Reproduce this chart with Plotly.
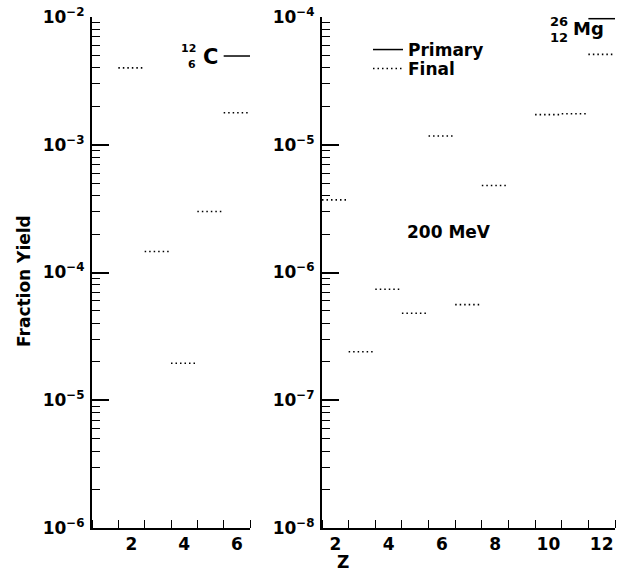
import plotly.graph_objects as go

# ---------------- data ----------------
left_z_final = [2, 3, 4, 5, 6]
left_final = [4.0e-3, 1.46e-4, 1.95e-5, 3.0e-4, 1.78e-3]
left_z_primary = [6]
left_primary = [4.95e-3]

right_z_final = [2, 3, 4, 5, 6, 7, 8, 10, 11, 12]
right_final = [3.7e-6, 2.4e-7, 7.4e-7, 4.8e-7, 1.17e-5, 5.6e-7, 4.8e-6, 1.72e-5, 1.75e-5, 5.1e-5]
right_z_primary = [12]
right_primary = [9.7e-5]

left_xticks = [2, 4, 6]
right_xticks = [2, 4, 6, 8, 10, 12]
left_decades = [-6, -5, -4, -3, -2]
right_decades = [-8, -7, -6, -5, -4]

FONT = "DejaVu Sans, Liberation Sans, Arial, sans-serif"
W, H = 624, 573
ML, MR, MT, MB = 92, 9, 17, 45
PW, PH = W - ML - MR, H - MT - MB


def px(x):
    return (x - ML) / PW


def py(y):
    return 1 - (y - MT) / PH


def segs(zs, vals):
    xs, ys = [], []
    for z, v in zip(zs, vals):
        xs += [z - 0.5, z + 0.5, None]
        ys += [v, v, None]
    return xs, ys


fig = go.Figure()

dot = dict(color="black", width=1.6, dash="1.5px,3px")
solid = dict(color="black", width=1.5)

x, y = segs(left_z_final, left_final)
fig.add_trace(go.Scatter(x=x, y=y, mode="lines", line=dot, xaxis="x", yaxis="y", showlegend=False, hoverinfo="skip"))
x, y = segs(left_z_primary, left_primary)
fig.add_trace(go.Scatter(x=x, y=y, mode="lines", line=solid, xaxis="x", yaxis="y", showlegend=False, hoverinfo="skip"))
x, y = segs(right_z_primary, right_primary)
fig.add_trace(go.Scatter(x=x, y=y, mode="lines", line=solid, xaxis="x2", yaxis="y2", name="Primary",
                         showlegend=True, legend="legend", hoverinfo="skip"))
x, y = segs(right_z_final, right_final)
fig.add_trace(go.Scatter(x=x, y=y, mode="lines", line=dot, xaxis="x2", yaxis="y2", name="Final",
                         showlegend=True, legend="legend2", hoverinfo="skip"))
# empty traces so the minor-tick overlay axes get drawn
fig.add_trace(go.Scatter(x=[None], y=[None], mode="lines", xaxis="x", yaxis="y3", showlegend=False, hoverinfo="skip"))
fig.add_trace(go.Scatter(x=[None], y=[None], mode="lines", xaxis="x2", yaxis="y4", showlegend=False, hoverinfo="skip"))

tickfont = dict(family=FONT, size=17, color="black", weight="bold")


def yaxis(decades, anchor):
    return dict(
        type="log",
        range=[decades[0], decades[-1]],
        tickmode="array",
        tickvals=[10.0 ** e for e in decades],
        ticktext=["10<sup>\u2212%d</sup>" % (-e) for e in decades],
        ticks="inside", ticklen=17, tickwidth=1.5, tickcolor="black",
        showline=True, linewidth=2, linecolor="black",
        showgrid=False, zeroline=False, tickfont=tickfont,
        anchor=anchor, ticklabelstandoff=2,
    )


def yminor(decades, anchor, over):
    vals = [k * 10.0 ** e for e in decades[:-1] for k in range(2, 10)]
    return dict(
        type="log", range=[decades[0], decades[-1]], overlaying=over, anchor=anchor,
        side="left", tickmode="array", tickvals=vals, ticktext=[""] * len(vals),
        showticklabels=True,
        ticks="inside", ticklen=8, tickwidth=1.3, tickcolor="black",
        showline=False, showgrid=False, zeroline=False,
    )


def xaxis(rng, ticks, domain, anchor):
    return dict(
        range=rng, domain=domain, anchor=anchor,
        tickmode="array", tickvals=ticks, ticktext=[str(t) for t in ticks],
        ticks="",
        minor=dict(tickmode="linear", tick0=0.5, dtick=1, ticks="inside", ticklen=8,
                   tickwidth=1.3, tickcolor="black", showgrid=False),
        showline=True, linewidth=2, linecolor="black",
        showgrid=False, zeroline=False, tickfont=tickfont,
    )


legfont = dict(family=FONT, size=17, color="black", weight="bold")

fig.update_layout(
    width=W, height=H,
    margin=dict(l=ML, r=MR, t=MT, b=MB, autoexpand=False),
    paper_bgcolor="white", plot_bgcolor="white",
    xaxis=xaxis([0.5, 6.5], left_xticks, [0, px(250)], "y"),
    yaxis=yaxis(left_decades, "x"),
    yaxis3=yminor(left_decades, "x", "y"),
    xaxis2=xaxis([1.5, 12.5], right_xticks, [px(322), 1], "y2"),
    yaxis2=yaxis(right_decades, "x2"),
    yaxis4=yminor(right_decades, "x2", "y2"),
    legend=dict(x=px(368), y=py(32), xanchor="left", yanchor="top", font=legfont,
                bgcolor="rgba(0,0,0,0)", borderwidth=0, itemwidth=30),
    legend2=dict(x=px(368), y=py(51), xanchor="left", yanchor="top", font=legfont,
                 bgcolor="rgba(0,0,0,0)", borderwidth=0, itemwidth=30),
    showlegend=True,
)

ann = []


def add(text, x, y, size, xanchor="center", yanchor="middle", angle=0):
    ann.append(dict(text=text, x=px(x), y=py(y), xref="paper", yref="paper",
                    xanchor=xanchor, yanchor=yanchor, textangle=angle, showarrow=False,
                    font=dict(family=FONT, size=size, color="black", weight="bold")))


add("Fraction Yield", 24, 281, 17, angle=-90)
add("Z", 343, 562, 17)
add("200 MeV", 405, 232, 17, xanchor="left")
# 12/6 C label
add("12", 198, 48, 11, xanchor="right")
add("6", 198, 64, 11, xanchor="right")
add("C", 201, 57, 21, xanchor="left")
# 26/12 Mg label
add("26", 559, 22, 13)
add("12", 559, 38, 13)
add("Mg", 571, 28, 18, xanchor="left")

fig.update_layout(annotations=ann)

fig.write_html("out.html", config={"displayModeBar": False},
               post_script="document.body.style.margin='0';document.body.style.overflow='hidden';")
